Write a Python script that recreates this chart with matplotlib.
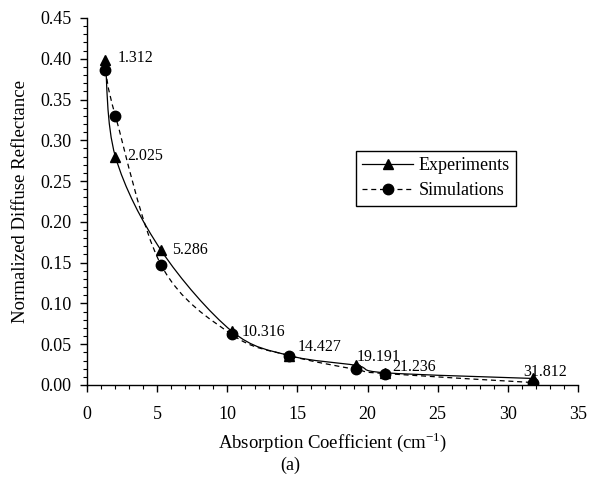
import matplotlib
matplotlib.use("Agg")
import matplotlib.pyplot as plt
from matplotlib.path import Path
from matplotlib.patches import PathPatch
from matplotlib.lines import Line2D
from matplotlib.ticker import MultipleLocator, FormatStrFormatter

plt.rcParams['font.family'] = ['Liberation Serif', 'DejaVu Serif']

absorption = [1.312, 2.025, 5.286, 10.316, 14.427, 19.191, 21.236, 31.812]
experiments = [0.398, 0.280, 0.165, 0.066, 0.036, 0.024, 0.015, 0.008]
simulations = [0.386, 0.330, 0.147, 0.062, 0.036, 0.019, 0.014, 0.003]
labels = ["1.312", "2.025", "5.286", "10.316", "14.427", "19.191", "21.236", "31.812"]

# offsets (points) for the value labels next to each triangle
label_offsets = [(8.6, 1.4), (8.6, 0.7), (7.9, 0), (7.2, -0.7),
                 (5.8, 6.5), (0, 5.8), (5, 4.3), (-7.2, 4.3)]


def smooth_path(xs, ys):
    # cubic bezier through the points, same style as spreadsheet smoothed lines
    pts = list(zip(xs, ys))
    verts = [pts[0]]
    codes = [Path.MOVETO]
    n = len(pts)
    for i in range(n - 1):
        p0 = pts[i - 1] if i > 0 else pts[i]
        p1 = pts[i]
        p2 = pts[i + 1]
        p3 = pts[i + 2] if i + 2 < n else pts[i + 1]
        c1 = (p1[0] + (p2[0] - p0[0]) / 6, p1[1] + (p2[1] - p0[1]) / 6)
        c2 = (p2[0] - (p3[0] - p1[0]) / 6, p2[1] - (p3[1] - p1[1]) / 6)
        verts += [c1, c2, p2]
        codes += [Path.CURVE4] * 3
    return Path(verts, codes)


fig = plt.figure(figsize=(5.89, 4.91), dpi=100)
ax = fig.add_axes([0.1477, 0.2159, 0.8336, 0.7475])

ax.add_patch(PathPatch(smooth_path(absorption, experiments), fill=False,
                       edgecolor="black", lw=0.9, transform=ax.transData))
ax.add_patch(PathPatch(smooth_path(absorption, simulations), fill=False,
                       edgecolor="black", lw=0.9, ls=(0, (4, 3)), transform=ax.transData))

ax.plot(absorption, simulations, "o", color="black", ms=7.5, ls="none", zorder=3)
ax.plot(absorption, experiments, "^", color="black", ms=7, ls="none", zorder=4)

for x, y, t, off in zip(absorption, experiments, labels, label_offsets):
    ax.annotate(t, (x, y), xytext=off, textcoords="offset points",
                ha="left", va="center", fontsize=11.5)

ax.set_xlim(0, 35)
ax.set_ylim(0, 0.45)
ax.xaxis.set_major_locator(MultipleLocator(5))
ax.xaxis.set_minor_locator(MultipleLocator(1))
ax.yaxis.set_major_locator(MultipleLocator(0.05))
ax.yaxis.set_minor_locator(MultipleLocator(0.01))
ax.yaxis.set_major_formatter(FormatStrFormatter("%.2f"))
ax.tick_params(which="major", direction="out", length=5, width=1, labelsize=13)
ax.tick_params(axis="x", which="major", pad=10)
ax.tick_params(axis="y", which="major", pad=6)
ax.tick_params(which="minor", direction="out", length=3, width=0.8)
for s in ax.spines.values():
    s.set_linewidth(1.0)
ax.spines["top"].set_visible(False)
ax.spines["right"].set_visible(False)

ax.set_xlabel("Absorption Coefficient (cm$^{\\mathregular{-1}}$)", fontsize=13.5, labelpad=5)
ax.set_ylabel("Normalized Diffuse Reflectance", fontsize=13.5, labelpad=8)
fig.text(0.492, 0.053, "(a)", fontsize=13, ha="center", va="center")

handles = [
    Line2D([], [], color="black", lw=0.9, marker="^", ms=7),
    Line2D([], [], color="black", lw=0.9, ls=(0, (4, 3)), marker="o", ms=7.5),
]
leg = ax.legend(handles, ["Experiments", "Simulations"], loc="upper left",
                bbox_to_anchor=(0.548, 0.638), fontsize=13, fancybox=False,
                edgecolor="black", framealpha=1, handlelength=2.8,
                handletextpad=0.3, borderpad=0.35, labelspacing=0.45,
                borderaxespad=0)
leg.get_frame().set_linewidth(1.0)

fig.savefig("out.png", dpi=100)
